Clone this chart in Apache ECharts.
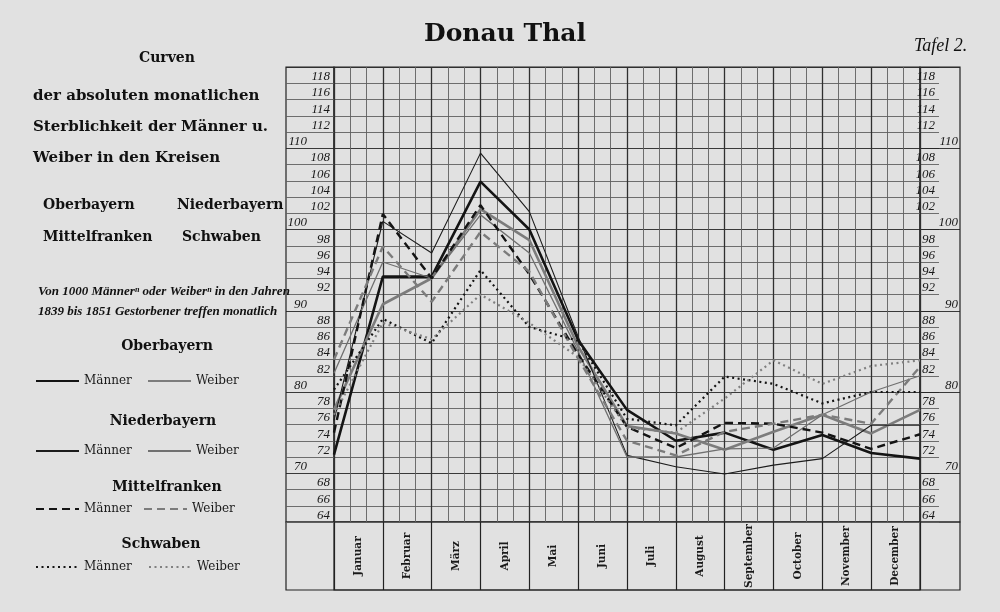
<!DOCTYPE html>
<html><head><meta charset="utf-8">
<script src="https://cdn.jsdelivr.net/npm/echarts/dist/echarts.min.js"></script>
<style>html,body{margin:0;padding:0;background:#e1e1e1}#c{width:1000px;height:612px}</style>
</head><body><div id="c"></div>
<script>
// Month columns (labels between the 13 boundary readings)
const months = ['Januar','Februar','März','April','Mai','Juni','Juli','August','September','October','November','December'];
// Readings at the column boundaries (start of Januar ... end of December), per 1000 deaths
const oberMaenner     = [72.3, 94.2, 94.2, 105.9, 100.0, 86.4, 77.8, 74.0, 75.0, 72.9, 74.7, 72.5, 71.8];
const oberWeiber      = [77.8, 90.8, 94.0, 102.5, 98.7, 85.6, 75.8, 74.9, 72.9, 75.1, 77.2, 74.9, 77.8];
const niederMaenner   = [76.5, 101.0, 97.1, 109.4, 102.2, 86.8, 72.2, 70.8, 69.9, 71.0, 71.8, 75.9, 75.9];
const niederWeiber    = [82.3, 96.0, 94.0, 101.8, 97.1, 85.0, 72.0, 72.0, 73.0, 73.1, 77.2, 80.0, 82.0];
const mittelMaenner   = [75.0, 101.9, 94.0, 103.0, 94.5, 84.6, 75.7, 73.1, 76.2, 76.1, 75.0, 73.0, 74.8];
const mittelWeiber    = [84.0, 97.9, 91.1, 99.7, 94.8, 84.1, 74.0, 72.2, 75.1, 76.1, 77.2, 76.1, 83.1];
const schwabenMaenner = [80.3, 89.0, 86.0, 95.0, 88.0, 86.3, 76.7, 75.9, 81.9, 81.0, 78.6, 80.0, 80.0];
const schwabenWeiber  = [77.2, 88.5, 86.5, 92.0, 88.5, 84.3, 75.6, 75.0, 79.2, 83.9, 81.0, 83.2, 83.9];
// Value axis
const yMin = 64, yMax = 120, yStep = 2, yMajor = 10;

const serif = 'DejaVu Serif';
const numFont = 'Liberation Serif';
const minorC = '#606060', majorC = '#262626';
const cycle = [minorC, minorC, minorC, majorC, minorC];
const cycleMajorOnly = ['transparent','transparent','transparent', majorC,'transparent'];
const isMajor = v => v % yMajor === 0;
const minorFmt = v => (isMajor(v) ? '' : String(v));
const majorFmt = v => (isMajor(v) && v !== yMax ? String(v) : '');
const numLabel = {fontFamily: numFont, fontStyle: 'italic', fontSize: 13, color: '#1a1a1a', verticalAlign: 'bottom'};

const defs = [
  {name: 'Oberbayern Männer',    data: oberMaenner,    color: '#141414', width: 2.6, type: 'solid'},
  {name: 'Oberbayern Weiber',    data: oberWeiber,     color: '#7c7c7c', width: 2.6, type: 'solid'},
  {name: 'Niederbayern Männer',  data: niederMaenner,  color: '#1c1c1c', width: 1.1, type: 'solid'},
  {name: 'Niederbayern Weiber',  data: niederWeiber,   color: '#707070', width: 1.3, type: 'solid'},
  {name: 'Mittelfranken Männer', data: mittelMaenner,  color: '#141414', width: 2.4, type: [8, 5]},
  {name: 'Mittelfranken Weiber', data: mittelWeiber,   color: '#7c7c7c', width: 2.4, type: [8, 5]},
  {name: 'Schwaben Männer',      data: schwabenMaenner,color: '#141414', width: 2.2, type: [2, 3.5]},
  {name: 'Schwaben Weiber',      data: schwabenWeiber, color: '#808080', width: 2.2, type: [2, 3.5]}
];

const legendPos = [[35,381],[147,381],[35,451],[147,451],[35,509],[143,509],[35,567],[148,567]];

const hiddenX = gi => ({gridIndex: gi, type: 'value', min: 0, max: 1, show: false});
const hiddenY = gi => ({gridIndex: gi, type: 'value', min: 0, max: 1, show: false});
const baseY = (gi, extra) => Object.assign({
  gridIndex: gi, type: 'value', min: yMin, max: yMax, interval: yStep,
  axisLine: {show: false}, axisTick: {show: false}
}, extra);
const head = (size) => ({fontFamily: serif, fontWeight: 'bold', fontSize: size, color: '#111'});

const title = [
  {text: 'Donau Thal', left: 500, top: 17, textAlign: 'center', textStyle: head(25)},
  {text: 'Tafel 2.', left: 909, top: 32, textStyle: {fontFamily: numFont, fontStyle: 'italic', fontSize: 18, fontWeight: 'normal', color: '#111'}},
  {text: 'Curven', left: 162, top: 46, textAlign: 'center', textStyle: head(14)},
  {text: 'der absoluten monatlichen', left: 28, top: 84, textStyle: head(15)},
  {text: 'Sterblichkeit der Männer u.', left: 28, top: 115, textStyle: head(15)},
  {text: 'Weiber in den Kreisen', left: 28, top: 146, textStyle: head(15)},
  {text: 'Oberbayern', left: 38, top: 193, textStyle: head(14)},
  {text: 'Niederbayern', left: 172, top: 193, textStyle: head(14)},
  {text: 'Mittelfranken', left: 38, top: 225, textStyle: head(14)},
  {text: 'Schwaben', left: 177, top: 225, textStyle: head(14)},
  {text: 'Von 1000 Männerⁿ oder Weiberⁿ in den Jahren', left: 33, top: 280, textStyle: {fontFamily: numFont, fontStyle: 'italic', fontWeight: 'bold', fontSize: 13, color: '#111'}},
  {text: '1839 bis 1851 Gestorbener treffen monatlich', left: 33, top: 300, textStyle: {fontFamily: numFont, fontStyle: 'italic', fontWeight: 'bold', fontSize: 13, color: '#111'}},
  {text: 'Oberbayern', left: 162, top: 334, textAlign: 'center', textStyle: head(14)},
  {text: 'Niederbayern', left: 158, top: 409, textAlign: 'center', textStyle: head(14)},
  {text: 'Mittelfranken', left: 162, top: 475, textAlign: 'center', textStyle: head(14)},
  {text: 'Schwaben', left: 156, top: 532, textAlign: 'center', textStyle: head(14)}
];

const gridBox = (o, framed) => Object.assign(framed ? {show: true, borderColor: '#222', borderWidth: 1.2, backgroundColor: 'transparent'} : {},
  {containLabel: false, outerBoundsMode: 'none'}, o);

const option = {
  backgroundColor: '#e1e1e1',
  animation: false,
  title: title,
  legend: defs.map((d, i) => ({
    data: [d.name], left: legendPos[i][0], top: legendPos[i][1] - 6, padding: 0,
    itemWidth: 43, itemHeight: 12, selectedMode: false,
    itemStyle: {color: 'transparent', borderColor: 'transparent', borderWidth: 0, opacity: 0},
    formatter: n => n.split(' ')[1],
    textStyle: {fontFamily: serif, fontSize: 12, color: '#1a1a1a'}
  })),
  grid: [
    gridBox({left: 334, right: 80, top: 67, bottom: 90}, true),
    gridBox({left: 286, width: 48, top: 67, bottom: 90}, true),
    gridBox({left: 920, width: 19, top: 67, bottom: 90}, false),
    gridBox({left: 920, width: 40, top: 67, bottom: 90}, true),
    gridBox({left: 334, right: 80, top: 522, bottom: 22}, true),
    gridBox({left: 286, right: 40, top: 522, bottom: 22}, true)
  ],
  xAxis: [
    {gridIndex: 0, type: 'value', min: 0, max: months.length, interval: 1,
     axisLine: {show: false}, axisTick: {show: false}, axisLabel: {show: false},
     splitLine: {show: true, lineStyle: {color: '#303030', width: 1.3}},
     minorTick: {show: false, splitNumber: 3},
     minorSplitLine: {show: true, lineStyle: {color: minorC, width: 0.9}}},
    hiddenX(1), hiddenX(2), hiddenX(3),
    {gridIndex: 4, type: 'category', data: months, boundaryGap: true, position: 'bottom',
     axisLine: {show: false}, axisTick: {show: false},
     splitLine: {show: true, interval: 0, lineStyle: {color: '#222', width: 1.2}},
     axisLabel: {show: true, inside: true, interval: 0, rotate: 90, margin: 34, align: 'center', verticalAlign: 'middle',
       fontFamily: serif, fontWeight: 'bold', fontSize: 10.5, color: '#1a1a1a'}},
    hiddenX(5)
  ],
  yAxis: [
    baseY(0, {axisLabel: {show: false}, splitLine: {show: true, lineStyle: {color: cycle, width: 0.9}}}),
    baseY(1, {position: 'right', axisLabel: Object.assign({inside: true, margin: 4, formatter: minorFmt}, numLabel),
      splitLine: {show: true, lineStyle: {color: cycle, width: 0.9}}}),
    baseY(1, {position: 'right', offset: -23, axisLabel: Object.assign({inside: true, margin: 4, formatter: majorFmt}, numLabel),
      splitLine: {show: false}}),
    baseY(2, {position: 'right', axisLabel: Object.assign({inside: true, margin: 4, formatter: minorFmt}, numLabel),
      splitLine: {show: true, lineStyle: {color: cycle, width: 0.9}}}),
    baseY(3, {position: 'right', axisLabel: Object.assign({inside: true, margin: 2, formatter: majorFmt}, numLabel),
      splitLine: {show: true, lineStyle: {color: cycleMajorOnly, width: 0.9}}}),
    hiddenY(4), hiddenY(5)
  ],
  series: defs.map(d => ({
    name: d.name, type: 'line', xAxisIndex: 0, yAxisIndex: 0,
    data: d.data.map((v, i) => [i, v]),
    symbol: 'none', showSymbol: false, smooth: false,
    lineStyle: {color: d.color, width: d.width, type: d.type},
    itemStyle: {color: d.color}
  }))
};

const chart = echarts.init(document.getElementById('c'), null, {renderer: 'canvas'});
chart.setOption(option);
</script></body></html>
